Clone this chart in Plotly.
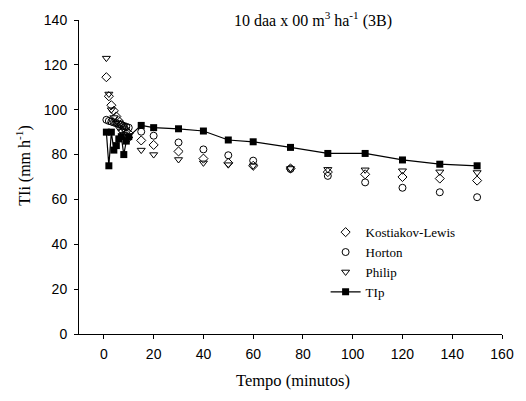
import plotly.graph_objects as go

tempo = [1, 2, 3, 4, 5, 6, 7, 8, 9, 10, 15, 20, 30, 40, 50, 60, 75, 90, 105, 120, 135, 150]
kostiakov = [114.5, 106, 102, 99.5, 97, 95, 93.5, 92, 90.5, 89.5, 86.3, 84.3, 81.4, 78.2, 76.3, 75, 73.8, 72.2, 71.2, 70, 69.3, 68.4]
horton = [95.5, 95, 94.7, 94.3, 94, 93.5, 93.2, 92.8, 92.4, 92, 90.2, 88.4, 85.4, 82.3, 79.7, 77.3, 73.6, 70.5, 67.6, 65.2, 63.2, 61]
philip = [123, 107, 100, 96.5, 94, 92, 90.5, 89, 88, 87, 82, 80, 77.8, 76.3, 75.5, 75, 73.8, 73.4, 73.2, 72.8, 72.3, 72]
tip = [90, 75, 90, 82, 84, 87, 88, 80, 86, 88, 93, 92, 91.5, 90.5, 86.5, 85.7, 83.2, 80.5, 80.5, 77.6, 75.7, 75]

x_ticks = [0, 20, 40, 60, 80, 100, 120, 140, 160]
y_ticks = [0, 20, 40, 60, 80, 100, 120, 140]

serif = "Liberation Serif, Times New Roman, serif"
sans = "Liberation Sans, Arial, sans-serif"

fig = go.Figure()
fig.add_trace(go.Scatter(x=tempo, y=kostiakov, mode="markers", name="Kostiakov-Lewis",
                         marker=dict(symbol="diamond-open", size=7, color="black", line=dict(width=1))))
fig.add_trace(go.Scatter(x=tempo, y=horton, mode="markers", name="Horton",
                         marker=dict(symbol="circle-open", size=7, color="black", line=dict(width=1))))
fig.add_trace(go.Scatter(x=tempo, y=philip, mode="markers", name="Philip",
                         marker=dict(symbol="triangle-down-open", size=7, color="black", line=dict(width=1))))
fig.add_trace(go.Scatter(x=tempo, y=tip, mode="lines+markers", name="TIp",
                         line=dict(color="black", width=1.2),
                         marker=dict(symbol="square", size=7, color="black")))

fig.update_layout(
    width=526, height=401,
    margin=dict(l=79, r=15, t=15, b=67),
    paper_bgcolor="white", plot_bgcolor="white",
    showlegend=True,
    legend=dict(x=0.583, y=0.372, xanchor="left", yanchor="top",
                font=dict(family=serif, size=13, color="black"),
                bgcolor="rgba(0,0,0,0)", tracegroupgap=0),
    xaxis=dict(range=[-10, 160], tickvals=x_ticks, ticks="outside", ticklen=4,
               tickcolor="black", showline=True, linecolor="black", linewidth=1,
               showgrid=False, zeroline=False, ticklabelstandoff=3,
               tickfont=dict(family=sans, size=14, color="black")),
    yaxis=dict(range=[0, 140], tickvals=y_ticks, ticks="outside", ticklen=4,
               tickcolor="black", showline=True, linecolor="black", linewidth=1,
               showgrid=False, zeroline=False, ticklabelstandoff=4,
               tickfont=dict(family=sans, size=14, color="black")),
    annotations=[
        dict(text="10 daa x 00 m<sup>3</sup> ha<sup>-1</sup> (3B)", x=0.553, y=1.003,
             xref="paper", yref="paper", xanchor="center", yanchor="middle",
             showarrow=False, font=dict(family=serif, size=16, color="black")),
        dict(text="Tempo (minutos)", x=0.505, y=0, yshift=-46,
             xref="paper", yref="paper", xanchor="center", yanchor="middle",
             showarrow=False, font=dict(family=serif, size=16.5, color="black")),
        dict(text="TIi (mm h<sup>-1</sup>)", x=0, xshift=-55, y=0.536,
             xref="paper", yref="paper", xanchor="center", yanchor="middle", textangle=-90,
             showarrow=False, font=dict(family=serif, size=16, color="black")),
    ],
)

fig.write_html("out.html", config={"displayModeBar": False},
               post_script="document.body.style.margin='0';document.body.style.overflow='hidden';")
